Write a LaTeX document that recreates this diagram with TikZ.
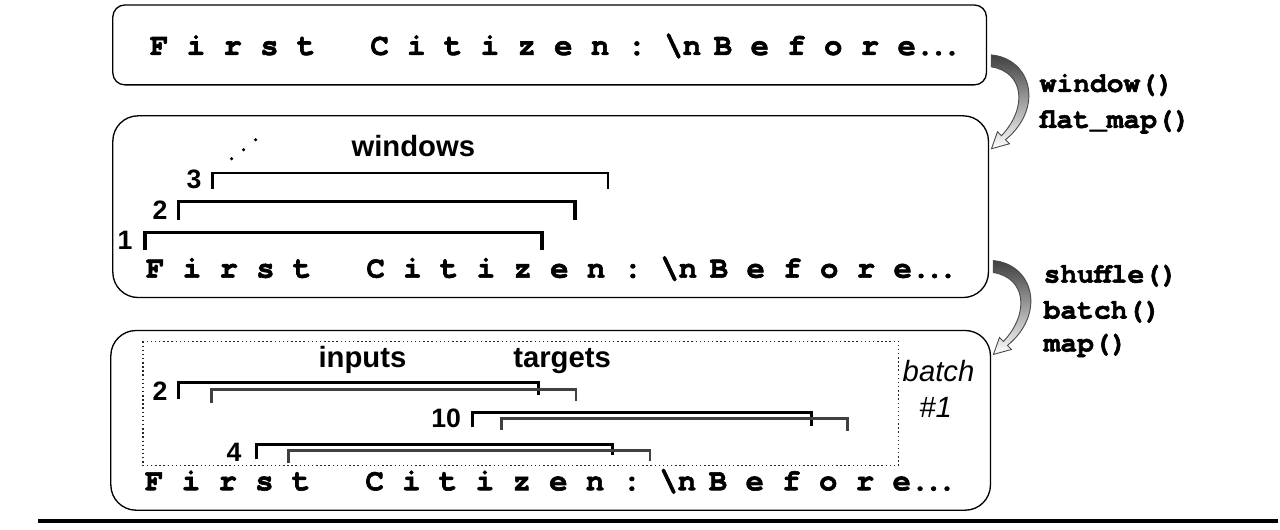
\documentclass[tikz,border=0pt]{standalone}
\usepackage{fontspec}
\setsansfont{Liberation Sans}
\newfontfamily\courfont{TeX Gyre Cursor}[BoldFeatures={FakeBold=2}]
\begin{document}
\begin{tikzpicture}[x=0.75pt,y=0.75pt,yscale=-1,xscale=1,
    seqtext/.style={anchor=base west, inner sep=0pt, font=\fontsize{23}{28}\courfont\bfseries},
    optext/.style={anchor=base west, inner sep=0pt, font=\fontsize{21}{26}\courfont\bfseries},
    lbltext/.style={anchor=base, inner sep=0pt, font=\fontsize{22}{26}\sffamily\bfseries},
    numtext/.style={anchor=base east, inner sep=0pt, font=\fontsize{20}{24}\sffamily\bfseries},
    winbr/.style={line width=2.6pt},
    inbr/.style={line width=2.3pt},
    tgbr/.style={line width=2pt, draw=black!75},
    bendarrow/.style={draw=black!70, line width=0.7pt, top color=black!75, bottom color=white}]
    \path (0,0) rectangle (1280,530); %set diagram size 1280 x 530
    
    %Rounded Rect [id:box1] 
    \draw  [line width=1pt, rounded corners=9pt]  (113,5) rectangle (988,85) ;
    %Rounded Rect [id:box2] 
    \draw  [line width=1pt, rounded corners=19pt]  (113,116) rectangle (990,298) ;
    %Rounded Rect [id:box3] 
    \draw  [line width=1pt, rounded corners=19pt]  (111,331) rectangle (992,511) ;
    %Dotted Rect [id:batchbox] 
    \draw  [line width=1.1pt, dotted, draw=black!85]  (143,342) rectangle (900,466) ;
    %Straight Lines [id:rule] 
    \draw  [line width=3pt]  (38,522) -- (1280,522) ;
    
    %Curved Arrow [id:bend1] 
    \coordinate (bend1) at (993,57) ;
    \draw [bendarrow, shift={(bend1)}]  (0,-2) .. controls (40,2) and (53,51) .. (14,83) -- (18,87) -- (0,92) -- (6,75) -- (10,79) .. controls (37,50) and (32,15) .. (0,10) -- cycle ;
    %Curved Arrow [id:bend2] 
    \coordinate (bend2) at (995,263) ;
    \draw [bendarrow, shift={(bend2)}]  (0,-2) .. controls (40,2) and (53,51) .. (14,83) -- (18,87) -- (0,92) -- (6,75) -- (10,79) .. controls (37,50) and (32,15) .. (0,10) -- cycle ;
    
    %Straight Lines [id:win1] 
    \draw  [winbr]  (145,250) -- (145,233) -- (543,233) -- (543,250) ;
    %Straight Lines [id:win2] 
    \draw  [winbr]  (179,220) -- (179,202) -- (576,202) -- (576,220) ;
    %Straight Lines [id:win3] 
    \draw  [line width=1.8pt]  (213,189) -- (213,173) -- (609,173) -- (609,189) ;
    %Dots [id:more] 
    \fill (232,159) circle (1.7) ;
    \fill (244,150) circle (1.7) ;
    \fill (256,140) circle (1.7) ;
    
    %Straight Lines [id:in2] 
    \draw  [inbr]  (179,400) -- (179,383) -- (539,383) -- (539,396) ;
    %Straight Lines [id:tg2] 
    \draw  [tgbr]  (212,404) -- (212,390) -- (577,390) -- (577,402) ;
    %Straight Lines [id:in10] 
    \draw  [inbr]  (473,428) -- (473,413) -- (813,413) -- (813,427) ;
    %Straight Lines [id:tg10] 
    \draw  [tgbr]  (502,431) -- (502,419) -- (849,419) -- (849,432) ;
    %Straight Lines [id:in4] 
    \draw  [inbr]  (257,460) -- (257,445) -- (613,445) -- (613,456) ;
    %Straight Lines [id:tg4] 
    \draw  [tgbr]  (289,464) -- (289,451) -- (651,451) -- (651,462) ;
    
    % Text Node
    \node (seq1) [seqtext] at (150,55) {F~i~r~s~t~~~C~i~t~i~z~e~n~:~\textbackslash n\kern-4.3pt~B~e~f~o~r~e.\kern-3.7pt.\kern-3.7pt.};
    % Text Node
    \node (seq2) [seqtext] at (146,278) {F~i~r~s~t~~~C~i~t~i~z~e~n~:~\textbackslash n\kern-4.3pt~B~e~f~o~r~e.\kern-3.7pt.\kern-3.7pt.};
    % Text Node
    \node (seq3) [seqtext] at (145,491) {F~i~r~s~t~~~C~i~t~i~z~e~n~:~\textbackslash n\kern-4.3pt~B~e~f~o~r~e.\kern-3.7pt.\kern-3.7pt.};
    % Text Node
    \node (windows) [lbltext] at (414,157) {windows};
    % Text Node
    \node (inputs) [lbltext] at (363,368) {inputs};
    % Text Node
    \node (targets) [lbltext] at (563,368) {targets};
    % Text Node
    \node (batch) [lbltext, font=\fontsize{22}{26}\sffamily\itshape] at (940,382) {batch};
    % Text Node
    \node (batchno) [lbltext, font=\fontsize{22}{26}\sffamily\itshape] at (937,418) {\#1};
    % Text Node
    \node (n1) [numtext] at (133,250) {1};
    % Text Node
    \node (n2) [numtext] at (168,220) {2};
    % Text Node
    \node (n3) [numtext] at (202,189) {3};
    % Text Node
    \node (m2) [numtext] at (168,401) {2};
    % Text Node
    \node (m10) [numtext] at (462,428) {10};
    % Text Node
    \node (m4) [numtext] at (242,462) {4};
    % Text Node
    \node (opwin) [optext] at (1041,92) {window()};
    % Text Node
    \node (opflat) [optext] at (1041,128) {flat\_map()};
    % Text Node
    \node (opshuf) [optext] at (1045,283) {shuffle()};
    % Text Node
    \node (opbatch) [optext] at (1045,319) {batch()};
    % Text Node
    \node (opmap) [optext] at (1045,352) {map()};
    
\end{tikzpicture}
\end{document}
